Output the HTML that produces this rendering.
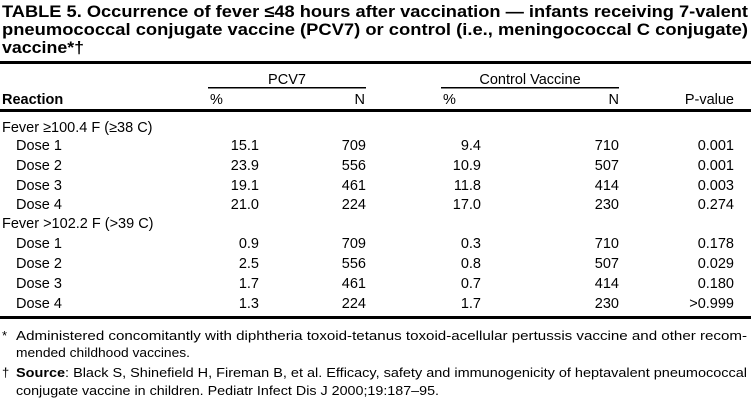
<!DOCTYPE html>
<html><head><meta charset="utf-8"><style>
html,body{margin:0;padding:0;background:#fff;}
svg{display:block;}
text{font-family:"Liberation Sans",sans-serif;fill:#000;}
.t{font-weight:bold;font-size:17px;}
.b{font-size:14.5px;}
.f{font-size:13px;}
</style></head><body>
<svg width="751" height="401" viewBox="0 0 751 401">
<text class="t" x="2" y="17" textLength="746" lengthAdjust="spacingAndGlyphs">TABLE 5. Occurrence of fever ≤48 hours after vaccination — infants receiving 7-valent</text>
<text class="t" x="2" y="35" textLength="746" lengthAdjust="spacingAndGlyphs">pneumococcal conjugate vaccine (PCV7) or control (i.e., meningococcal C conjugate)</text>
<text class="t" x="2" y="53" textLength="82" lengthAdjust="spacingAndGlyphs">vaccine*†</text>
<rect x="0" y="61" width="751" height="3"/>
<text class="b" x="287" y="84" text-anchor="middle">PCV7</text>
<text class="b" x="530" y="84" text-anchor="middle">Control Vaccine</text>
<rect x="208" y="87" width="158" height="1.5"/>
<rect x="441" y="87" width="178" height="1.5"/>
<text class="b" x="2" y="104" font-weight="bold">Reaction</text>
<text class="b" x="210" y="104">%</text>
<text class="b" x="365" y="104" text-anchor="end">N</text>
<text class="b" x="443" y="104">%</text>
<text class="b" x="619" y="104" text-anchor="end">N</text>
<text class="b" x="734" y="104" text-anchor="end">P-value</text>
<rect x="0" y="109" width="751" height="3"/>
<text class="b" x="2" y="132">Fever ≥100.4 F (≥38 C)</text>
<text class="b" x="2" y="228">Fever &gt;102.2 F (&gt;39 C)</text>
<rect x="0" y="316" width="751" height="3"/>
<text class="f" x="2" y="340">*</text>
<text class="f" x="16" y="340" textLength="731" lengthAdjust="spacingAndGlyphs">Administered concomitantly with diphtheria toxoid-tetanus toxoid-acellular pertussis vaccine and other recom-</text>
<text class="f" x="16" y="357" textLength="174" lengthAdjust="spacingAndGlyphs">mended childhood vaccines.</text>
<text class="f" x="2" y="377">†</text>
<text class="f" x="16" y="377" textLength="731" lengthAdjust="spacingAndGlyphs"><tspan font-weight="bold">Source</tspan>: Black S, Shinefield H, Fireman B, et al. Efficacy, safety and immunogenicity of heptavalent pneumococcal</text>
<text class="f" x="16" y="395" textLength="423" lengthAdjust="spacingAndGlyphs">conjugate vaccine in children. Pediatr Infect Dis J 2000;19:187–95.</text>
<g>
<text class="b" x="16" y="150">Dose 1</text><text class="b" x="259" y="150" text-anchor="end">15.1</text><text class="b" x="366" y="150" text-anchor="end">709</text><text class="b" x="481" y="150" text-anchor="end">9.4</text><text class="b" x="619" y="150" text-anchor="end">710</text><text class="b" x="734" y="150" text-anchor="end">0.001</text>
<text class="b" x="16" y="170">Dose 2</text><text class="b" x="259" y="170" text-anchor="end">23.9</text><text class="b" x="366" y="170" text-anchor="end">556</text><text class="b" x="481" y="170" text-anchor="end">10.9</text><text class="b" x="619" y="170" text-anchor="end">507</text><text class="b" x="734" y="170" text-anchor="end">0.001</text>
<text class="b" x="16" y="190">Dose 3</text><text class="b" x="259" y="190" text-anchor="end">19.1</text><text class="b" x="366" y="190" text-anchor="end">461</text><text class="b" x="481" y="190" text-anchor="end">11.8</text><text class="b" x="619" y="190" text-anchor="end">414</text><text class="b" x="734" y="190" text-anchor="end">0.003</text>
<text class="b" x="16" y="209">Dose 4</text><text class="b" x="259" y="209" text-anchor="end">21.0</text><text class="b" x="366" y="209" text-anchor="end">224</text><text class="b" x="481" y="209" text-anchor="end">17.0</text><text class="b" x="619" y="209" text-anchor="end">230</text><text class="b" x="734" y="209" text-anchor="end">0.274</text>
<text class="b" x="16" y="248">Dose 1</text><text class="b" x="259" y="248" text-anchor="end">0.9</text><text class="b" x="366" y="248" text-anchor="end">709</text><text class="b" x="481" y="248" text-anchor="end">0.3</text><text class="b" x="619" y="248" text-anchor="end">710</text><text class="b" x="734" y="248" text-anchor="end">0.178</text>
<text class="b" x="16" y="268">Dose 2</text><text class="b" x="259" y="268" text-anchor="end">2.5</text><text class="b" x="366" y="268" text-anchor="end">556</text><text class="b" x="481" y="268" text-anchor="end">0.8</text><text class="b" x="619" y="268" text-anchor="end">507</text><text class="b" x="734" y="268" text-anchor="end">0.029</text>
<text class="b" x="16" y="288">Dose 3</text><text class="b" x="259" y="288" text-anchor="end">1.7</text><text class="b" x="366" y="288" text-anchor="end">461</text><text class="b" x="481" y="288" text-anchor="end">0.7</text><text class="b" x="619" y="288" text-anchor="end">414</text><text class="b" x="734" y="288" text-anchor="end">0.180</text>
<text class="b" x="16" y="308">Dose 4</text><text class="b" x="259" y="308" text-anchor="end">1.3</text><text class="b" x="366" y="308" text-anchor="end">224</text><text class="b" x="481" y="308" text-anchor="end">1.7</text><text class="b" x="619" y="308" text-anchor="end">230</text><text class="b" x="734" y="308" text-anchor="end">&gt;0.999</text>
</g>
</svg>
</body></html>
